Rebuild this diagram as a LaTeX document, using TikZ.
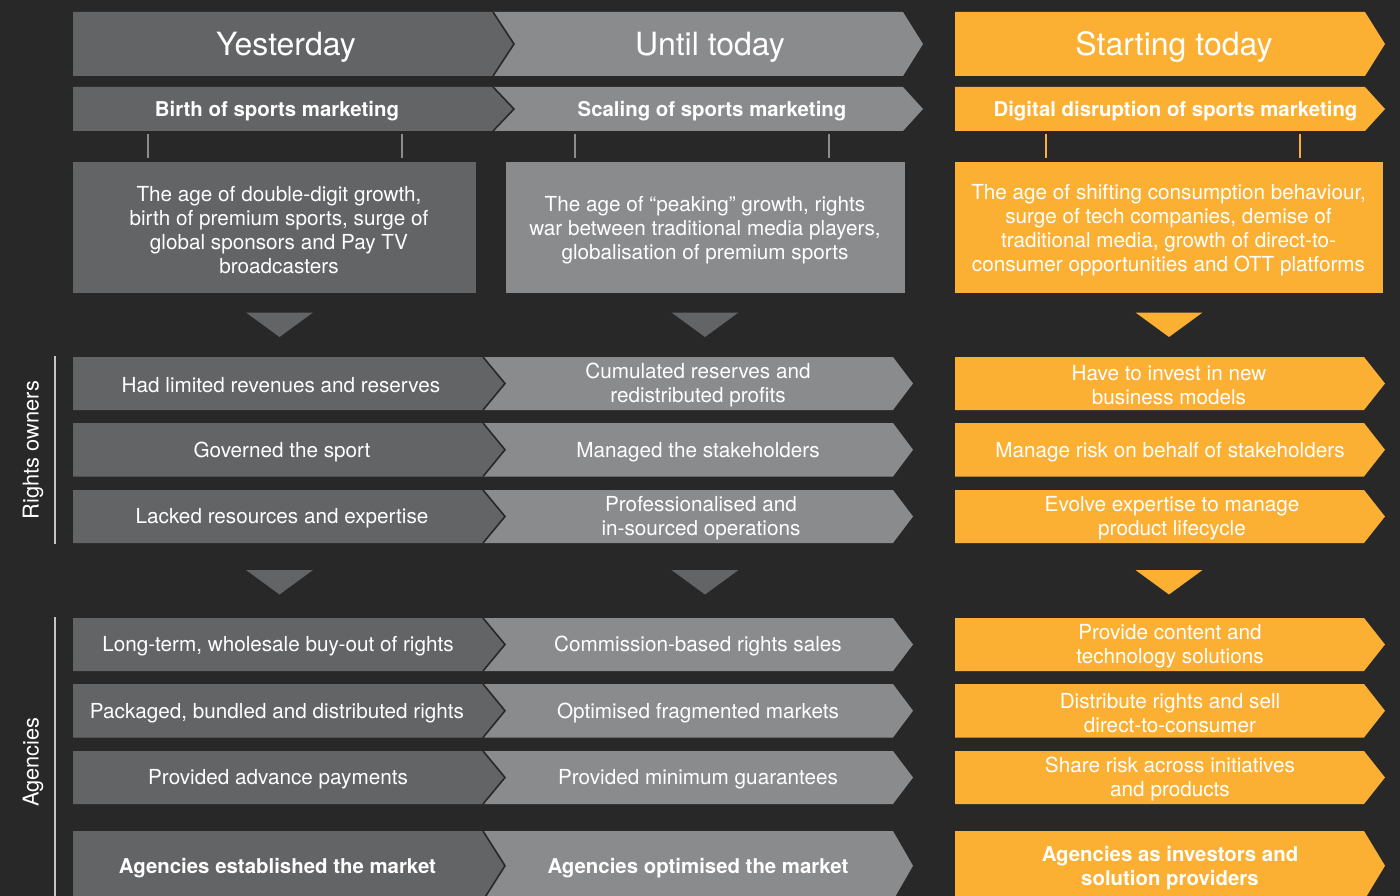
\documentclass[tikz,border=0pt]{standalone}
\usepackage{fontspec}
\setmainfont{TeX Gyre Heros}
\definecolor{bgc}{HTML}{282828}
\definecolor{dkg}{HTML}{636466}
\definecolor{ltg}{HTML}{8A8B8D}
\definecolor{org}{HTML}{FBB034}
\definecolor{vln}{HTML}{C4C4C4}
\newcommand\chev[6]{\fill[#6] (#1,#3) -- (#2,#3) -- ({#2+#5},{(#3+#4)/2}) -- (#2,#4) -- (#1,#4) -- cycle;}
\newcommand\sepline[4]{\draw[bgc,line width=1.6pt,line join=miter] (#1,#2) -- ({#1+#4},{(#2+#3)/2}) -- (#1,#3);}
\begin{document}
\begin{tikzpicture}[x=1pt,y=-1pt,
  txt/.style={text=white,align=center,inner sep=0pt,yshift=-2pt,font=\fontsize{20.7}{24}\selectfont},
  btxt/.style={txt,font=\fontsize{20.4}{24.5}\selectfont\bfseries},
  htxt/.style={text=white,inner sep=0pt,yshift=-3pt,font=\fontsize{32}{36}\selectfont},
  side/.style={text=white,inner sep=0pt,rotate=90,font=\fontsize{21.8}{24}\selectfont},
  tick/.style={line width=2pt},
  vline/.style={vln,line width=1.5pt}]
\fill[bgc] (0,0) rectangle (1400,896);
\useasboundingbox (0,0) rectangle (1400,896);

% header row
\chev{493}{903}{12}{76}{20}{ltg}
\chev{73}{493}{12}{76}{21}{dkg}
\sepline{493}{12}{76}{21}
\chev{955}{1365}{12}{76}{20}{org}
\node[htxt] (h1) at (286,44) {Yesterday};
\node[htxt] (h2) at (710,44) {Until today};
\node[htxt] (h3) at (1174,44) {Starting today};

% subtitle row
\chev{493}{903}{87}{131}{20}{ltg}
\chev{73}{493}{87}{131}{21}{dkg}
\sepline{493}{87}{131}{21}
\chev{955}{1365}{87}{131}{20}{org}
\node[btxt] (s1) at (277,109) {Birth of sports marketing};
\node[btxt] (s2) at (712,109) {Scaling of sports marketing};
\node[btxt] (s3) at (1175.5,109) {Digital disruption of sports marketing};

% ticks
\draw[tick,ltg] (148,134) -- (148,158) (402,134) -- (402,158)
                (575,134) -- (575,158) (829,134) -- (829,158);
\draw[tick,org] (1046,134) -- (1046,158) (1300,134) -- (1300,158);

% description boxes
\fill[dkg] (73,162) rectangle (476,293);
\fill[ltg] (506,162) rectangle (905,293);
\fill[org] (955,162) rectangle (1383,293);
\node[txt] (d1) at (279,228) {The age of double-digit growth,\\birth of premium sports, surge of\\global sponsors and Pay TV\\broadcasters};
\node[txt] (d2) at (705,228) {The age of “peaking” growth, rights\\war between traditional media players,\\globalisation of premium sports};
\node[txt] (d3) at (1168.5,228) {The age of shifting consumption behaviour,\\surge of tech companies, demise of\\traditional media, growth of direct-to-\\consumer opportunities and OTT platforms};

% down triangles
\foreach \cx/\cy/\cc in {279.5/312.5/dkg,705/312.5/dkg,1169/312.5/org,279.5/570/dkg,705/570/dkg,1169/570/org}{
  \fill[\cc] ({\cx-33.5},\cy) -- ({\cx+33.5},\cy) -- (\cx,{\cy+24.5}) -- cycle;}

% side labels
\draw[vline] (55,356) -- (55,544);
\draw[vline] (55,617) -- (55,896);
\node[side] (lr) at (33,450) {Rights owners};
\node[side] (la) at (33,762) {Agencies};

% rows
\foreach \ya/\yb in {357/410,423/476.5,490/543,618/671,684/737.5,751/804,831/900.5}{
  \chev{483}{893}{\ya}{\yb}{20}{ltg}
  \chev{73}{483}{\ya}{\yb}{22}{dkg}
  \sepline{483}{\ya}{\yb}{22}
  \chev{955}{1364}{\ya}{\yb}{21}{org}
}

% rights owners texts
\node[txt] (r11) at (281,383.5) {Had limited revenues and reserves};
\node[txt] (r12) at (698,383.5) {Cumulated reserves and\\redistributed profits};
\node[txt] (r13) at (1169,383.5) {Have to invest in new\\business models};
\node[txt] (r21) at (282,450) {Governed the sport};
\node[txt] (r22) at (698,450) {Managed the stakeholders};
\node[txt] (r23) at (1170,450) {Manage risk on behalf of stakeholders};
\node[txt] (r31) at (282,516.5) {Lacked resources and expertise};
\node[txt] (r32) at (701,516.5) {Professionalised and\\in-sourced operations};
\node[txt] (r33) at (1172,516.5) {Evolve expertise to manage\\product lifecycle};

% agencies texts
\node[txt] (a11) at (278,644.5) {Long-term, wholesale buy-out of rights};
\node[txt] (a12) at (698,644.5) {Commission-based rights sales};
\node[txt] (a13) at (1170,644.5) {Provide content and\\technology solutions};
\node[txt] (a21) at (277,711) {Packaged, bundled and distributed rights};
\node[txt] (a22) at (698,711) {Optimised fragmented markets};
\node[txt] (a23) at (1170,711) {Distribute rights and sell\\direct-to-consumer};
\node[txt] (a31) at (278,777.5) {Provided advance payments};
\node[txt] (a32) at (698,777.5) {Provided minimum guarantees};
\node[txt] (a33) at (1170,777.5) {Share risk across initiatives\\and products};
\node[btxt] (a41) at (277.5,866) {Agencies established the market};
\node[btxt] (a42) at (698,866) {Agencies optimised the market};
\node[btxt] (a43) at (1170,866) {Agencies as investors and\\solution providers};
\end{tikzpicture}
\end{document}
